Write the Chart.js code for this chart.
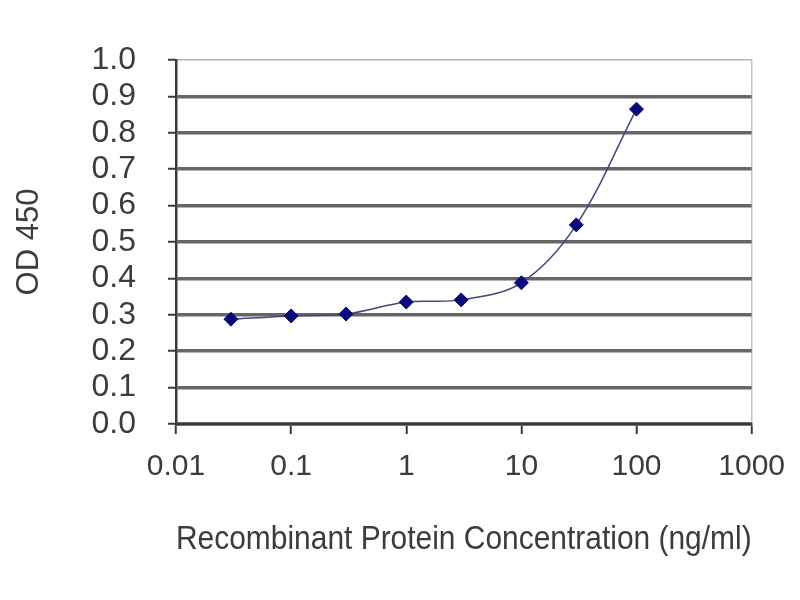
<!DOCTYPE html>
<html>
<head>
<meta charset="utf-8">
<script src="https://cdn.jsdelivr.net/npm/chart.js@4/dist/chart.umd.min.js"></script>
<style>
  html, body { margin: 0; padding: 0; background: #ffffff; }
  #wrap { width: 800px; height: 600px; }
</style>
</head>
<body>
<div id="wrap"><canvas id="c" width="800" height="600"></canvas></div>
<script>
// Data
const concentrations = [0.03, 0.1, 0.3, 1, 3, 10, 30, 100];
const od450 = [0.288, 0.297, 0.302, 0.335, 0.341, 0.388, 0.547, 0.865];
const xTickValues = [0.01, 0.1, 1, 10, 100, 1000];
const xTickLabels = ['0.01', '0.1', '1', '10', '100', '1000'];
const yTickLabels = ['0.0', '0.1', '0.2', '0.3', '0.4', '0.5', '0.6', '0.7', '0.8', '0.9', '1.0'];
const xTitle = 'Recombinant Protein Concentration (ng/ml)';
const yTitle = 'OD 450';

const points = concentrations.map((x, i) => ({ x: x, y: od450[i] }));
const FONT = '"Liberation Sans", Arial, sans-serif';
const TEXT = '#3c3c3c';

new Chart(document.getElementById('c'), {
  type: 'scatter',
  data: {
    datasets: [{
      data: points,
      showLine: true,
      tension: 0.35,
      borderColor: '#45457a',
      borderWidth: 1.5,
      pointStyle: 'rectRot',
      pointRadius: 7,
      pointBackgroundColor: '#0a0a78',
      pointBorderColor: '#0a0a78',
      pointBorderWidth: 1
    }]
  },
  options: {
    responsive: false,
    animation: false,
    layout: { padding: { top: 60, right: 48, left: 0, bottom: 0 } },
    plugins: { legend: { display: false }, tooltip: { enabled: false } },
    scales: {
      x: {
        type: 'logarithmic',
        min: 0.01,
        max: 1000,
        afterBuildTicks: (s) => { s.ticks = xTickValues.map(v => ({ value: v })); },
        afterFit: (s) => { s.height = 176; },
        ticks: {
          autoSkip: false,
          maxRotation: 0,
          padding: 15,
          color: TEXT,
          font: { family: FONT, size: 30 },
          callback: (v, i) => xTickLabels[i]
        },
        grid: {
          drawOnChartArea: true,
          color: (ctx) => (ctx.tick && ctx.tick.value === 1000) ? '#c4c4c4' : 'rgba(0,0,0,0)',
          lineWidth: 1.5,
          tickColor: '#3a3a3a',
          tickWidth: 2,
          tickLength: 10
        },
        border: { display: true, color: '#3a3a3a', width: 2.5 },
        title: {
          display: true,
          text: xTitle,
          color: TEXT,
          font: { family: FONT, size: 33 },
          padding: { top: 0, bottom: 40 }
        }
      },
      y: {
        min: 0,
        max: 1,
        afterFit: (s) => { s.width = 176; },
        ticks: {
          autoSkip: false,
          stepSize: 0.1,
          padding: 32,
          color: TEXT,
          font: { family: FONT, size: 32, lineHeight: 1 },
          callback: (v, i) => yTickLabels[i]
        },
        grid: {
          color: (ctx) => (ctx.tick && Math.abs(ctx.tick.value - 1) < 1e-6) ? '#b4b4b4' : '#666666',
          lineWidth: (ctx) => (ctx.tick && Math.abs(ctx.tick.value - 1) < 1e-6) ? 1.5 : 3.5,
          tickColor: '#3a3a3a',
          tickWidth: 2,
          tickLength: 8
        },
        border: { display: true, color: '#3a3a3a', width: 2.5 },
        title: {
          display: true,
          text: yTitle,
          color: TEXT,
          font: { family: FONT, size: 31 },
          padding: { top: 11, bottom: 0 }
        }
      }
    }
  }
});
</script>
</body>
</html>
